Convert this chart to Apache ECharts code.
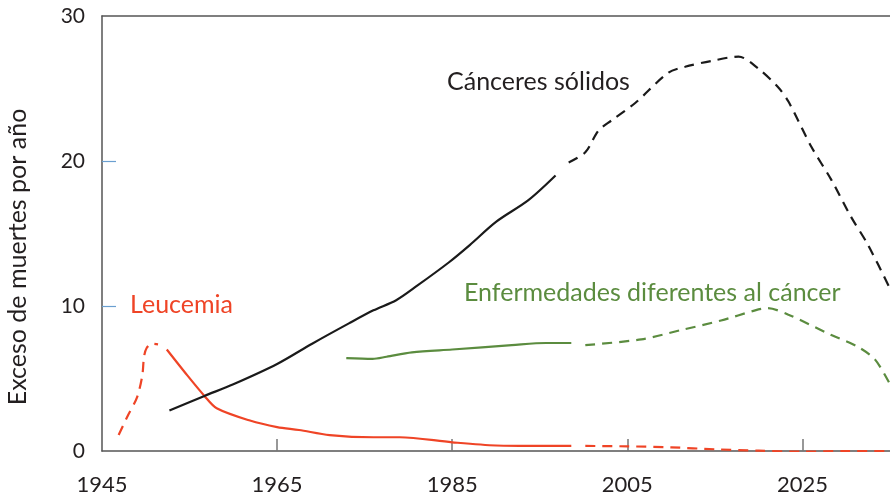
<!DOCTYPE html>
<html>
<head>
<meta charset="utf-8">
<script src="https://cdn.jsdelivr.net/npm/echarts@6/dist/echarts.min.js"></script>
<style>
  html, body { margin: 0; padding: 0; background: #fff; }
  #chart { width: 890px; height: 500px; }
</style>
</head>
<body>
<div id="chart"></div>
<script>
// Exceso de muertes por año: [año, muertes]
const leucemiaInicial = [[1946.9, 1.1], [1948.0, 2.5], [1949.0, 3.7], [1949.6, 5.2], [1949.8, 6.5], [1950.1, 7.1], [1950.7, 7.4], [1951.4, 7.35]];
const leucemiaObservada = [[1952.4, 7.0], [1954.5, 5.4], [1956.7, 3.8], [1958.1, 2.95], [1961.9, 2.1], [1965, 1.65], [1967.5, 1.45], [1971, 1.1], [1976, 0.95], [1979, 0.95], [1985, 0.6], [1990, 0.38], [1995, 0.35], [1998.6, 0.35]];
const leucemiaProyectada = [[2000.2, 0.35], [2005, 0.32], [2010, 0.25], [2015, 0.12], [2020, 0.02], [2025, -0.05], [2030, 0], [2035, 0]];

const solidosObservados = [[1952.7, 2.8], [1956.7, 3.8], [1960, 4.6], [1965, 6.0], [1969, 7.4], [1973.2, 8.8], [1976, 9.7], [1978.6, 10.4], [1981, 11.4], [1984.6, 13.0], [1987, 14.2], [1990, 15.8], [1993.7, 17.3], [1996.8, 19.0]];
const solidosProyectados = [[1998.3, 19.9], [2000.2, 20.6], [2001.7, 22.1], [2003.2, 22.8], [2005.9, 24.0], [2009.7, 26.1], [2011.6, 26.5], [2014.6, 26.9], [2017.7, 27.2], [2019.9, 26.4], [2022.2, 25.1], [2023.4, 24.1], [2026, 21.0], [2028.3, 18.7], [2030.5, 16.2], [2032.5, 14.2], [2035, 11.2]];

const otrasObservadas = [[1972.9, 6.4], [1975.9, 6.35], [1977.5, 6.5], [1980.4, 6.8], [1985, 7.0], [1991.8, 7.3], [1995.7, 7.45], [1998.6, 7.45]];
const otrasProyectadas = [[2000.2, 7.3], [2006.6, 7.7], [2011.2, 8.35], [2015.7, 9.0], [2019.6, 9.7], [2021, 9.85], [2023.4, 9.4], [2028.3, 8.0], [2031.3, 7.2], [2033.3, 6.3], [2035, 4.6]];

const etiquetasAnio = [1945, 1965, 1985, 2005, 2025];
const marcasAnio = [1965, 1985, 2005, 2025];
const etiquetasMuertes = [0, 10, 20, 30];
const marcasMuertes = [10, 20];

const ROJO = '#ef4426';
const VERDE = '#5b8c3f';
const NEGRO = '#1a1a1a';
const FUENTE = 'Lato, "Open Sans", sans-serif';
const GUION = [10, 7];

function linea(datos, color, discontinua) {
  return {
    type: 'line',
    data: datos,
    smooth: 0.3,
    symbol: 'none',
    silent: true,
    lineStyle: { color: color, width: 2.2, type: discontinua ? GUION : 'solid', cap: 'butt' }
  };
}

const chart = echarts.init(document.getElementById('chart'), null, { renderer: 'canvas' });
chart.setOption({
  animation: false,
  backgroundColor: '#fff',
  grid: { left: 102, right: 0, top: 16, bottom: 49, containLabel: false },
  xAxis: [{
    type: 'value', min: 1945, max: 2035,
    axisLine: { lineStyle: { color: '#555', width: 1.5 } },
    axisTick: { show: true, inside: true, length: 12, customValues: marcasAnio, lineStyle: { color: '#777', width: 1.5 } },
    axisLabel: { customValues: etiquetasAnio, margin: 23, color: '#231f20', fontSize: 22, fontFamily: FUENTE, formatter: v => String(v) },
    splitLine: { show: false }
  }, {
    type: 'value', min: 1945, max: 2035, position: 'top',
    axisLine: { show: true, lineStyle: { color: '#555', width: 1.5 } },
    axisTick: { show: false }, axisLabel: { show: false }, splitLine: { show: false }
  }],
  yAxis: {
    type: 'value', min: 0, max: 30,
    axisLine: { show: true, lineStyle: { color: '#555', width: 1.5 } },
    axisTick: { show: true, inside: true, length: 14, customValues: marcasMuertes, lineStyle: { color: '#6a9fd0', width: 1.2 } },
    axisLabel: { customValues: etiquetasMuertes, margin: 17, color: '#231f20', fontSize: 21, fontFamily: FUENTE },
    splitLine: { show: false }
  },
  graphic: [
    { type: 'text', x: 18, y: 257, rotation: Math.PI / 2,
      style: { text: 'Exceso de muertes por año', fill: '#231f20', font: '25px ' + FUENTE, textAlign: 'center', textVerticalAlign: 'middle' } },
    { type: 'text', x: 447, y: 82,
      style: { text: 'Cánceres sólidos', fill: '#231f20', font: '25px ' + FUENTE, textAlign: 'left', textVerticalAlign: 'middle' } },
    { type: 'text', x: 130, y: 305,
      style: { text: 'Leucemia', fill: ROJO, font: '25px ' + FUENTE, textAlign: 'left', textVerticalAlign: 'middle' } },
    { type: 'text', x: 464, y: 293,
      style: { text: 'Enfermedades diferentes al cáncer', fill: VERDE, font: '25px ' + FUENTE, textAlign: 'left', textVerticalAlign: 'middle' } }
  ],
  series: [
    linea(leucemiaInicial, ROJO, true),
    linea(leucemiaObservada, ROJO, false),
    linea(leucemiaProyectada, ROJO, true),
    linea(solidosObservados, NEGRO, false),
    linea(solidosProyectados, NEGRO, true),
    linea(otrasObservadas, VERDE, false),
    linea(otrasProyectadas, VERDE, true)
  ]
});
</script>
</body>
</html>
